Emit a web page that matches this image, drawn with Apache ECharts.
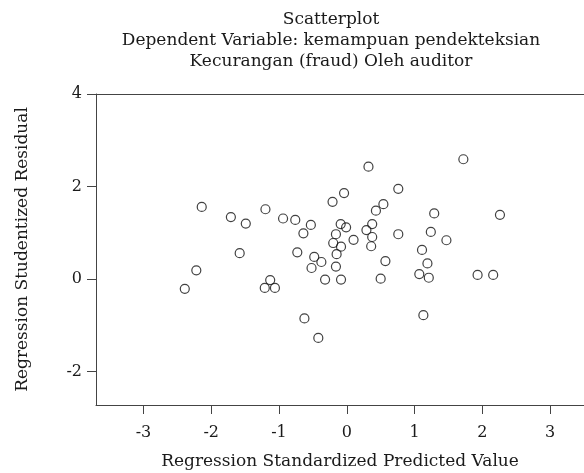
<!DOCTYPE html>
<html>
<head>
<meta charset="utf-8">
<script src="https://cdn.jsdelivr.net/npm/echarts@6/dist/echarts.min.js"></script>
<style>
  html, body { margin: 0; padding: 0; background: #fff; }
  #chart { width: 584px; height: 473px; }
</style>
</head>
<body>
<div id="chart"></div>
<script>
// standardized predicted value (x) and studentized residual (y)
const predicted = [
  -2.39, -2.22, -2.14, -1.71, -1.49, -1.58, -1.20, -1.13, -1.21, -1.06,
  -0.94, -0.76, -0.73, -0.64, -0.53, -0.48, -0.375, -0.52, -0.625, -0.42,
  -0.32, -0.21, -0.04, -0.09, -0.01, -0.16, -0.20, -0.085, -0.15, -0.16,
  -0.085, 0.10, 0.32, 0.29, 0.375, 0.375, 0.36, 0.43, 0.54, 0.57,
  0.50, 0.76, 0.76, 1.11, 1.07, 1.19, 1.21, 1.24, 1.29, 1.47,
  1.13, 1.72, 1.93, 2.16, 2.26
]
const residual = [
  -0.21, 0.19, 1.56, 1.34, 1.20, 0.56, 1.51, -0.02, -0.19, -0.19,
  1.31, 1.28, 0.58, 0.99, 1.17, 0.48, 0.37, 0.24, -0.85, -1.27,
  -0.01, 1.67, 1.86, 1.19, 1.12, 0.97, 0.78, 0.70, 0.54, 0.27,
  -0.01, 0.85, 2.43, 1.06, 1.19, 0.91, 0.71, 1.48, 1.62, 0.39,
  0.01, 1.95, 0.97, 0.63, 0.11, 0.34, 0.03, 1.02, 1.42, 0.84,
  -0.78, 2.59, 0.09, 0.09, 1.39
]
const xTicks = [-3, -2, -1, 0, 1, 2, 3]
const yTicks = [-2, 0, 2, 4]
const titleLines = [
  'Scatterplot',
  'Dependent Variable: kemampuan pendekteksian',
  'Kecurangan (fraud) Oleh auditor'
]

const xMin = -3.7, xMax = 3.5
const yMin = -2.72, yMax = 4

const font = 'DejaVu Serif'
const textColor = '#1a1a1a'
const axisColor = '#444'

const W = 584, H = 473
const plot = { left: 96, right: 0, top: 94, bottom: 68 }

// second grid that spans exactly the first..last tick, so interval ticks line up
const xScale = (W - plot.left - plot.right) / (xMax - xMin)
const yScale = (H - plot.top - plot.bottom) / (yMax - yMin)
const xT0 = xTicks[0], xT1 = xTicks[xTicks.length - 1]
const yT0 = yTicks[0], yT1 = yTicks[yTicks.length - 1]
const tickGrid = {
  left: plot.left + (xT0 - xMin) * xScale,
  right: plot.right + (xMax - xT1) * xScale,
  top: plot.top + (yMax - yT1) * yScale,
  bottom: plot.bottom + (yT0 - yMin) * yScale,
  outerBoundsMode: 'none',
  containLabel: false
}

const chart = echarts.init(document.getElementById('chart'))

const points = predicted.map((x, i) => [x, residual[i]])

chart.setOption({
  animation: false,
  backgroundColor: '#fff',
  title: {
    text: titleLines.join('\n'),
    left: 326,
    top: 4,
    textAlign: 'center',
    textStyle: {
      fontFamily: font,
      fontSize: 17,
      fontWeight: 'normal',
      color: textColor,
      lineHeight: 21
    }
  },
  grid: [
    {
      left: plot.left, right: plot.right, top: plot.top, bottom: plot.bottom,
      outerBoundsMode: 'none',
      containLabel: false
    },
    tickGrid
  ],
  xAxis: [
    {
      type: 'value',
      gridIndex: 0,
      min: xMin,
      max: xMax,
      name: 'Regression Standardized Predicted Value',
      nameLocation: 'middle',
      nameGap: 48,
      nameTextStyle: { fontFamily: font, fontSize: 17, color: textColor },
      axisLine: { show: true, onZero: false, lineStyle: { color: axisColor, width: 1 } },
      axisTick: { show: false },
      axisLabel: { show: false },
      splitLine: { show: false }
    },
    {
      // top frame line only
      type: 'value',
      gridIndex: 0,
      position: 'top',
      min: xMin,
      max: xMax,
      axisLine: { show: true, onZero: false, lineStyle: { color: axisColor, width: 1 } },
      axisTick: { show: false },
      axisLabel: { show: false },
      splitLine: { show: false }
    },
    {
      // ticks and labels
      type: 'value',
      gridIndex: 1,
      position: 'bottom',
      min: xT0,
      max: xT1,
      interval: 1,
      offset: tickGrid.bottom - plot.bottom,
      axisLine: { show: false, onZero: false },
      axisTick: { show: true, length: 9, lineStyle: { color: axisColor } },
      axisLabel: { margin: 20, fontFamily: font, fontSize: 16, color: textColor },
      splitLine: { show: false }
    }
  ],
  yAxis: [
    {
      type: 'value',
      gridIndex: 0,
      min: yMin,
      max: yMax,
      name: 'Regression Studentized Residual',
      nameLocation: 'middle',
      nameGap: 65,
      nameTextStyle: { fontFamily: font, fontSize: 17, color: textColor },
      axisLine: { show: true, onZero: false, lineStyle: { color: axisColor, width: 1 } },
      axisTick: { show: false },
      axisLabel: { show: false },
      splitLine: { show: false }
    },
    {
      type: 'value',
      gridIndex: 1,
      position: 'left',
      min: yT0,
      max: yT1,
      interval: 2,
      offset: tickGrid.left - plot.left,
      axisLine: { show: false, onZero: false },
      axisTick: { show: true, length: 9, lineStyle: { color: axisColor } },
      axisLabel: { margin: 14, fontFamily: font, fontSize: 16, color: textColor },
      splitLine: { show: false }
    }
  ],
  series: [
    {
      type: 'scatter',
      xAxisIndex: 0,
      yAxisIndex: 0,
      data: points,
      symbol: 'circle',
      symbolSize: 9,
      itemStyle: {
        color: 'rgba(255,255,255,0)',
        borderColor: '#111',
        borderWidth: 1.2
      }
    }
  ]
})
</script>
</body>
</html>
